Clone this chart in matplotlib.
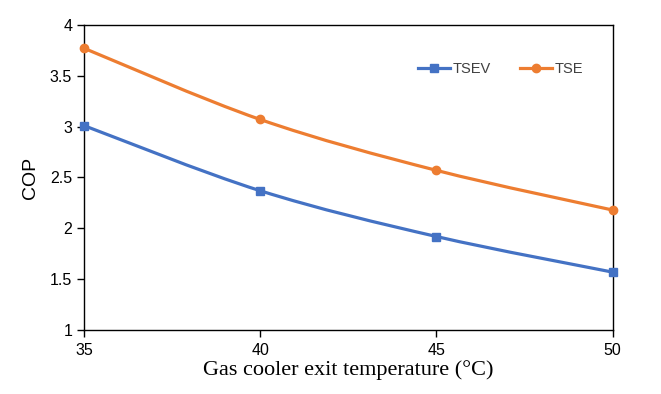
import numpy as np
import matplotlib.pyplot as plt
from matplotlib.path import Path
from matplotlib.patches import PathPatch

temps = [35, 40, 45, 50]
tsev = [3.01, 2.37, 1.92, 1.57]
tse = [3.77, 3.07, 2.57, 2.18]


def smooth_path(x, y):
    # Excel-style smoothing: cubic bezier segments through the data points
    x = np.asarray(x, float)
    y = np.asarray(y, float)
    n = len(x)
    verts = [(x[0], y[0])]
    codes = [Path.MOVETO]
    for i in range(n - 1):
        x0, y0 = (x[i - 1], y[i - 1]) if i > 0 else (x[i], y[i])
        x3, y3 = (x[i + 2], y[i + 2]) if i + 2 < n else (x[i + 1], y[i + 1])
        c1 = (x[i] + (x[i + 1] - x0) / 6, y[i] + (y[i + 1] - y0) / 6)
        c2 = (x[i + 1] - (x3 - x[i]) / 6, y[i + 1] - (y3 - y[i]) / 6)
        verts += [c1, c2, (x[i + 1], y[i + 1])]
        codes += [Path.CURVE4] * 3
    return Path(verts, codes)


plt.rcParams['font.family'] = ['Liberation Sans', 'DejaVu Sans']

fig = plt.figure(figsize=(6.61, 3.94), dpi=100)
ax = fig.add_axes([0.127, 0.162, 0.800, 0.775])

series = [(tsev, '#4472C4', 's', 'TSEV'), (tse, '#ED7D31', 'o', 'TSE')]
for vals, col, mk, lab in series:
    ax.add_patch(PathPatch(smooth_path(temps, vals), fill=False, edgecolor=col,
                           lw=2.3, clip_on=False, zorder=3))
    ax.plot(temps, vals, linestyle='none', marker=mk, color=col, markersize=6,
            clip_on=False, zorder=4)
    ax.plot([], [], color=col, lw=2.3, marker=mk, markersize=6, label=lab)

ax.set_xlim(35, 50)
ax.set_ylim(1, 4)
ax.set_xticks([35, 40, 45, 50])
ax.set_yticks([1, 1.5, 2, 2.5, 3, 3.5, 4])
ax.set_yticklabels(['1', '1.5', '2', '2.5', '3', '3.5', '4'])
ax.tick_params(labelsize=11.5, length=5, width=1, direction='out')
ax.tick_params(axis='x', pad=4)
for s in ax.spines.values():
    s.set_linewidth(1)
    s.set_color('black')

ax.set_ylabel('COP', fontsize=14, labelpad=8)
ax.set_xlabel('Gas cooler exit temperature (°C)', fontsize=16,
              family=['Liberation Serif', 'DejaVu Serif'], labelpad=2)

leg = ax.legend(loc='center left', bbox_to_anchor=(0.606, 0.855), ncol=2, frameon=False,
                fontsize=10.5, handlelength=2.2, columnspacing=2.0, handletextpad=0.2)
for t in leg.get_texts():
    t.set_color('#404040')

fig.savefig('out.png', dpi=100)
